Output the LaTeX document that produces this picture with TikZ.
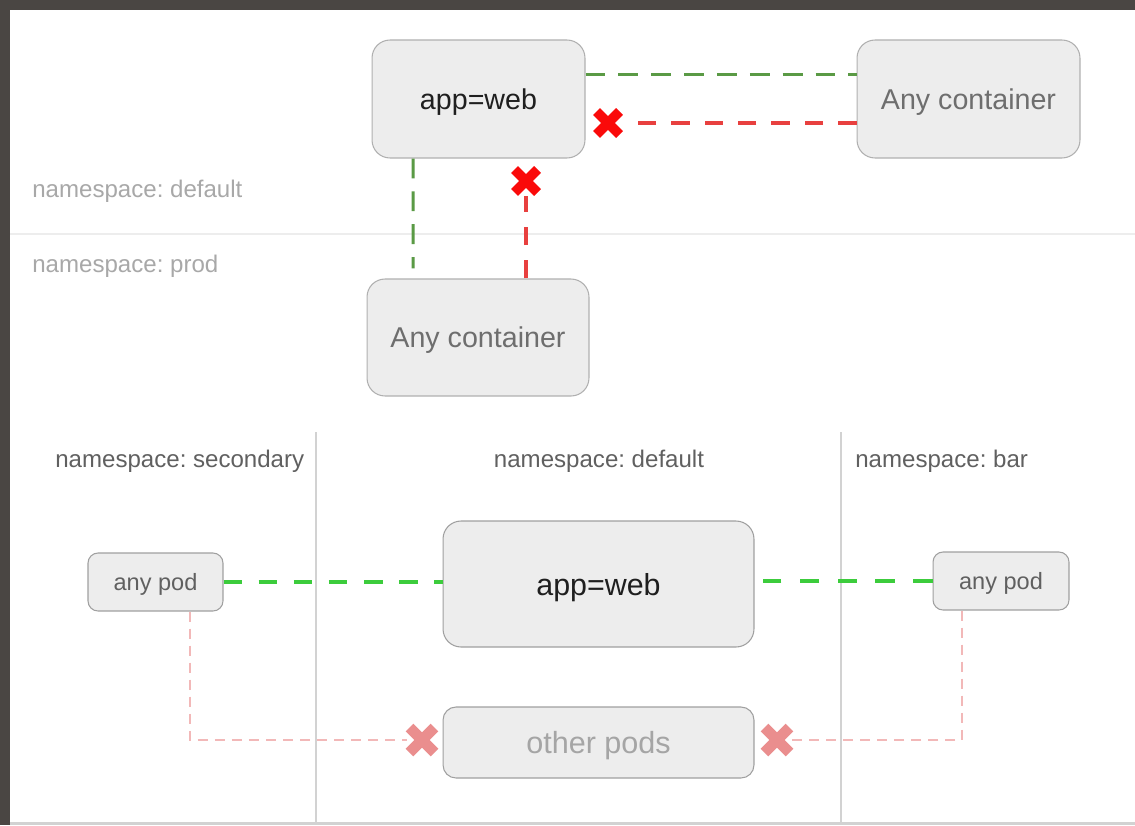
\documentclass[tikz,border=0pt]{standalone}
\usepackage{fontspec}
\setmainfont{Liberation Sans}
\usetikzlibrary{calc}
\frenchspacing

\definecolor{frame}{HTML}{4A4643}
\definecolor{boxfill}{HTML}{EDEDED}
\definecolor{boxline}{HTML}{B0B0B0}
\definecolor{boxlinedark}{HTML}{A0A0A0}
\definecolor{nslight}{HTML}{A8A8A8}
\definecolor{nsdark}{HTML}{606060}
\definecolor{anytext}{HTML}{6E6E6E}
\definecolor{othertext}{HTML}{A5A5A5}
\definecolor{okdark}{HTML}{5A9A45}
\definecolor{okbright}{HTML}{3CCC3C}
\definecolor{denyline}{HTML}{E8403F}
\definecolor{denymark}{HTML}{FA0A0A}
\definecolor{softline}{HTML}{F2B8B8}
\definecolor{softmark}{HTML}{EA8E8E}
\definecolor{divider}{HTML}{D2D2D2}

\tikzset{
  pod/.style={draw=boxline, line width=0.6pt, fill=boxfill, rounded corners=0.36cm,
    inner sep=0pt, align=center, text depth=0pt},
  podsmall/.style={pod, draw=boxlinedark, rounded corners=0.2cm},
  nslabel/.style={inner sep=0pt, anchor=base west, font=\fontsize{13.7pt}{16pt}\selectfont},
  okdash/.style={okdark, line width=1.7pt, dash pattern=on 11.3pt off 7.4pt},
  okdashb/.style={okbright, line width=2pt, dash pattern=on 10.5pt off 9.5pt},
  okdashr/.style={okbright, line width=2pt, dash pattern=on 11pt off 10.5pt},
  denydash/.style={denyline, line width=1.8pt, dash pattern=on 10.5pt off 8.5pt},
  softdash/.style={softline, line width=1.2pt, dash pattern=on 5.7pt off 4pt},
  blockmark/.style={circle, inner sep=0pt, minimum size=0.6cm},
  redstroke/.style={denymark, line width=5.6pt},
  softstroke/.style={softmark, line width=6.2pt},
}

\begin{document}
\begin{tikzpicture}[x=0.02cm, y=-0.02cm]
  % page: dark frame round a white sheet
  \fill[frame] (0,0) rectangle (1135,825);
  \fill[white] (10,10) rectangle (1135,822);
  \fill[divider] (10,822) rectangle (1135,825);
  \useasboundingbox (0,0) rectangle (1135,825);

  % ---------- upper part: namespaces default / prod ----------
  \draw[draw=black!7, line width=0.8pt] (10,234) -- (1135,234);
  \node[nslabel, text=nslight] (nsdef) at (32,197.5) {namespace: default};
  \node[nslabel, text=nslight] (nsprod) at (32,272) {namespace: prod};

  \node[pod, minimum width=4.26cm, minimum height=2.36cm,
        font=\fontsize{16.3pt}{19pt}\selectfont, text=black!88] (web1) at (478.5,99) {app=web};
  \node[pod, minimum width=4.46cm, minimum height=2.36cm,
        font=\fontsize{16.3pt}{19pt}\selectfont, text=anytext] (cont1) at (968.5,99) {Any container};
  \node[pod, minimum width=4.44cm, minimum height=2.34cm,
        font=\fontsize{16.3pt}{19pt}\selectfont, text=anytext] (cont2) at (478,337.5) {Any container};

  % allowed: web <-> container in default
  \draw[okdash] ([yshift=0.5cm]web1.east) -- ([yshift=0.5cm]cont1.west);
  % blocked: container in default -> web
  \node[blockmark] (x1) at (608,123) {};
  \draw[denydash] (x1 -| cont1.west) -- (x1);
  \draw[redstroke] ([shift={(-11.5,-11.5)}]x1.center) -- ([shift={(11.5,11.5)}]x1.center);
  \draw[redstroke] ([shift={(-11.5,11.5)}]x1.center) -- ([shift={(11.5,-11.5)}]x1.center);

  % allowed: web -> container in prod
  \draw[okdash, shorten >=0.2cm] ([xshift=-1.31cm]web1.south) -- ([xshift=-1.30cm]cont2.north);
  % blocked: container in prod -> web
  \node[blockmark] (x2) at (526,181) {};
  \draw[denydash] (x2 |- cont2.north) -- (x2);
  \draw[redstroke] ([shift={(-11.5,-11.5)}]x2.center) -- ([shift={(11.5,11.5)}]x2.center);
  \draw[redstroke] ([shift={(-11.5,11.5)}]x2.center) -- ([shift={(11.5,-11.5)}]x2.center);

  % ---------- lower part: namespaces secondary / default / bar ----------
  \draw[divider, line width=0.9pt] (316,432) -- (316,822);
  \draw[divider, line width=0.9pt] (841,432) -- (841,822);
  \node[nslabel, text=nsdark] (nssec) at (55,467) {namespace: secondary};
  \node[nslabel, text=nsdark, anchor=base] (nsdef2) at (599,467) {namespace: default};
  \node[nslabel, text=nsdark] (nsbar) at (855,467) {namespace: bar};

  \node[podsmall, minimum width=2.7cm, minimum height=1.16cm,
        font=\fontsize{13.4pt}{16pt}\selectfont, text=nsdark] (podL) at (155.5,582) {any pod};
  \node[podsmall, minimum width=2.72cm, minimum height=1.16cm,
        font=\fontsize{13.4pt}{16pt}\selectfont, text=nsdark] (podR) at (1001,581) {any pod};
  \node[pod, draw=boxlinedark, minimum width=6.22cm, minimum height=2.52cm,
        font=\fontsize{17.3pt}{20pt}\selectfont, text=black!88] (web2) at (598.5,584) {app=web};
  \node[pod, draw=boxlinedark, rounded corners=0.26cm, minimum width=6.22cm, minimum height=1.42cm,
        font=\fontsize{17.4pt}{20pt}\selectfont, text=othertext] (other) at (598.5,742.5) {other pods};

  % allowed: any pod in other namespaces <-> web
  \draw[okdashb] (podL.east) -- (podL.east -| web2.west);
  \draw[okdashr, shorten >=0.16cm] (podR.west) -- (podR.west -| web2.east);

  % blocked: any pod in other namespaces -> other pods
  \node[blockmark] (x3) at (422,740) {};
  \node[blockmark] (x4) at (777,740) {};
  \draw[softdash] ([xshift=0.69cm]podL.south) |- (x3);
  \draw[softdash] ([xshift=-0.78cm]podR.south) |- (x4);
  \foreach \m in {x3,x4}{
    \draw[softstroke] ([shift={(-12.5,-12.5)}]\m.center) -- ([shift={(12.5,12.5)}]\m.center);
    \draw[softstroke] ([shift={(-12.5,12.5)}]\m.center) -- ([shift={(12.5,-12.5)}]\m.center);
  }
\end{tikzpicture}
\end{document}
